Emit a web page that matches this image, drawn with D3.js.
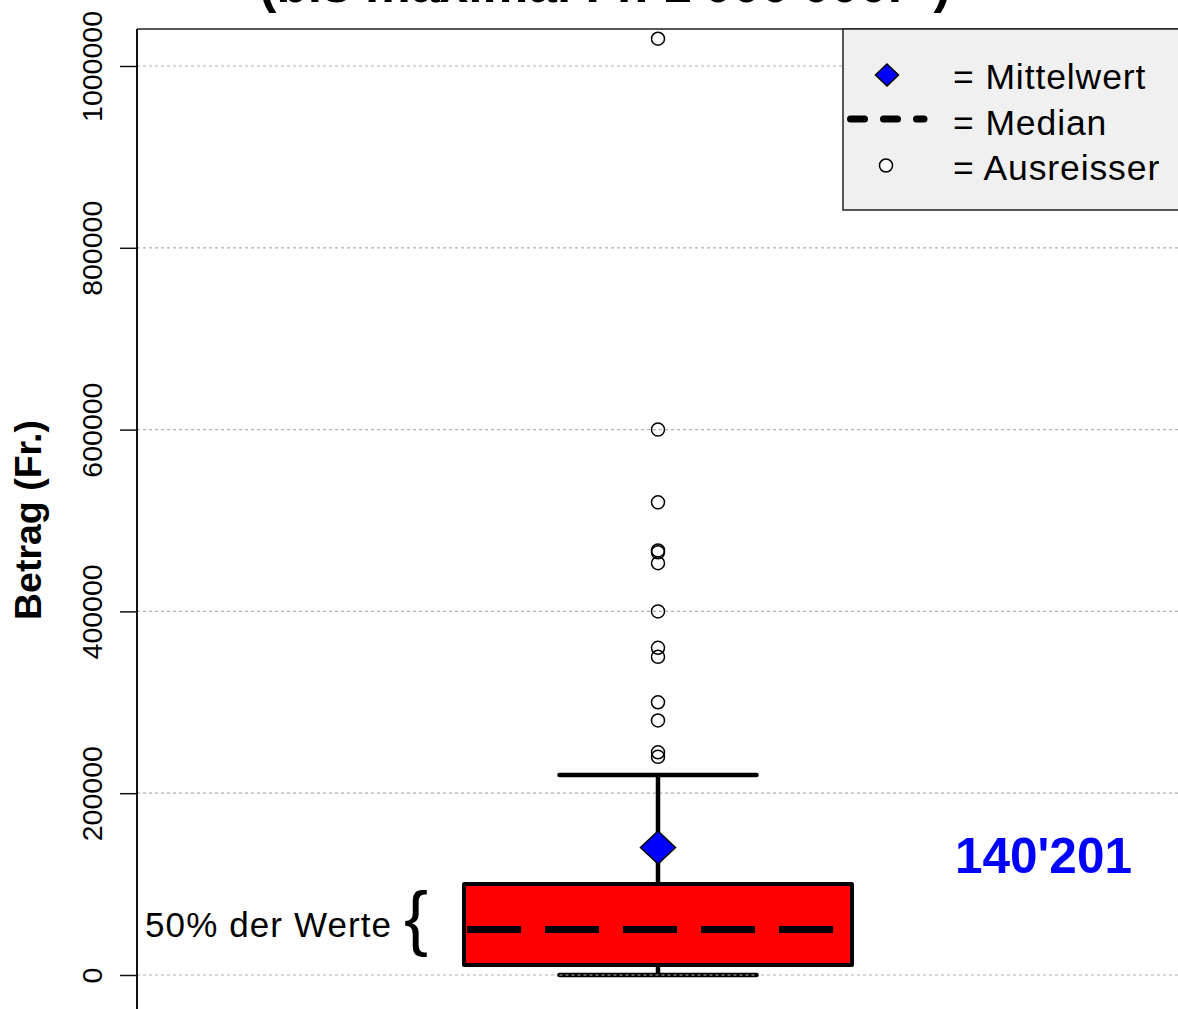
<!DOCTYPE html>
<html>
<head>
<meta charset="utf-8">
<script src="https://cdn.jsdelivr.net/npm/d3@7"></script>
<style>
  html, body { margin: 0; padding: 0; background: #fff; }
  svg { display: block; font-family: "Liberation Sans", Arial, Helvetica, sans-serif; }
</style>
</head>
<body>
<svg id="chart" width="1178" height="1009"></svg>
<script>
// ---- data ----
const categories = ["Betrag"];
const boxQ1 = [11000];
const boxMedian = [50000];
const boxQ3 = [100000];
const whiskerLow = [0];
const whiskerHigh = [220000];
const meanValues = [140201];
const meanLabels = ["140'201"];
const outliers = [1030000, 600000, 520000, 467000, 465000, 453000, 400000, 360000, 350000, 300000, 280000, 245000, 240000];
const yTicks = [0, 200000, 400000, 600000, 800000, 1000000];
const titleText = "(bis maximal Fr. 1'000'000.- )";
const yLabel = "Betrag (Fr.)";
const legendLabels = ["= Mittelwert", "= Median", "= Ausreisser"];
const braceLabel = "50% der Werte";

// ---- layout ----
const svg = d3.select("#chart");
const plotLeft = 137, plotRight = 1179, plotTop = 29, plotBottom = 1012;

const y = d3.scaleLinear().domain([0, 1000000]).range([975, 66]);
const x = d3.scaleBand().domain(categories).range([plotLeft, plotRight]).paddingInner(0).paddingOuter(0.843);

const font = '"Liberation Sans", Arial, Helvetica, sans-serif';

// gridlines
svg.append("g").selectAll("line").data(yTicks).join("line")
  .attr("x1", plotLeft).attr("x2", plotRight)
  .attr("y1", d => y(d)).attr("y2", d => y(d))
  .attr("stroke", "#b0b0b0").attr("stroke-width", 1.2)
  .attr("stroke-dasharray", "3,3");

// plot box (top + left)
svg.append("line").attr("x1", plotLeft).attr("x2", plotRight).attr("y1", plotTop).attr("y2", plotTop)
  .attr("stroke", "#222").attr("stroke-width", 1.5);
svg.append("line").attr("x1", plotLeft).attr("x2", plotLeft).attr("y1", plotTop).attr("y2", plotBottom)
  .attr("stroke", "#111").attr("stroke-width", 2);

// y axis
const yAxis = d3.axisLeft(y).tickValues(yTicks).tickSize(17).tickFormat(d3.format("d"));
const gAxis = svg.append("g").attr("transform", `translate(${plotLeft},0)`).call(yAxis);
gAxis.select(".domain").remove();
gAxis.selectAll(".tick line").attr("stroke", "#111").attr("stroke-width", 1.5);
gAxis.selectAll(".tick text")
  .attr("x", null).attr("dy", null)
  .attr("transform", "translate(-35,0) rotate(-90)")
  .attr("text-anchor", "middle")
  .attr("font-family", font)
  .attr("font-size", 28.5)
  .attr("fill", "#000");

// y label
svg.append("text")
  .attr("transform", "translate(41,520) rotate(-90)")
  .attr("text-anchor", "middle")
  .attr("font-family", font).attr("font-weight", "bold").attr("font-size", 37.5)
  .text(yLabel);

// title (cut off at top, as in the original)
svg.append("text")
  .attr("x", 605).attr("y", 2)
  .attr("text-anchor", "middle")
  .attr("font-family", font).attr("font-weight", "bold").attr("font-size", 51.5)
  .text(titleText);

// box plot
categories.forEach((c, i) => {
  const cx = x(c) + x.bandwidth() / 2;
  const capHalf = x.bandwidth() * 0.254;
  svg.append("line").attr("x1", cx).attr("x2", cx)
    .attr("y1", y(whiskerHigh[i])).attr("y2", y(boxQ3[i]))
    .attr("stroke", "#000").attr("stroke-width", 4.5);
  svg.append("line").attr("x1", cx).attr("x2", cx)
    .attr("y1", y(boxQ1[i])).attr("y2", y(whiskerLow[i]))
    .attr("stroke", "#000").attr("stroke-width", 4.5);
  [whiskerHigh[i], whiskerLow[i]].forEach(v => {
    svg.append("line").attr("x1", cx - capHalf).attr("x2", cx + capHalf)
      .attr("y1", y(v)).attr("y2", y(v))
      .attr("stroke", "#000").attr("stroke-width", 4.5).attr("stroke-linecap", "round");
  });
  svg.append("line").attr("x1", cx - capHalf).attr("x2", cx + capHalf)
    .attr("y1", y(whiskerLow[i])).attr("y2", y(whiskerLow[i]))
    .attr("stroke", "#bbb").attr("stroke-width", 1.2).attr("stroke-dasharray", "3,3");
  svg.append("rect")
    .attr("x", x(c)).attr("y", y(boxQ3[i]))
    .attr("width", x.bandwidth()).attr("height", y(boxQ1[i]) - y(boxQ3[i]))
    .attr("fill", "#ff0000").attr("stroke", "#000").attr("stroke-width", 4)
    .attr("stroke-linejoin", "round");
  svg.append("line")
    .attr("x1", x(c) + 3).attr("x2", x(c) + x.bandwidth() - 2)
    .attr("y1", y(boxMedian[i])).attr("y2", y(boxMedian[i]))
    .attr("stroke", "#000").attr("stroke-width", 7)
    .attr("stroke-dasharray", "54,24");
  const my = y(meanValues[i]);
  svg.append("path")
    .attr("d", `M${cx},${my - 16.5} L${cx + 17.5},${my} L${cx},${my + 16.5} L${cx - 17.5},${my} Z`)
    .attr("fill", "#0000ff").attr("stroke", "#000").attr("stroke-width", 1.5);
  svg.append("g").selectAll("circle").data(outliers).join("circle")
    .attr("cx", cx).attr("cy", d => y(d)).attr("r", 6.5)
    .attr("fill", "none").attr("stroke", "#000").attr("stroke-width", 1.5);
  svg.append("text").attr("x", 955).attr("y", 873)
    .attr("font-family", font).attr("font-weight", "bold").attr("font-size", 49.5)
    .attr("fill", "#0000ff").text(meanLabels[i]);
  svg.append("text").attr("x", 145).attr("y", 937)
    .attr("font-family", font).attr("font-size", 35).attr("letter-spacing", 1.1).text(braceLabel);
  svg.append("text").attr("x", 404).attr("y", 942)
    .attr("font-family", font).attr("font-size", 72).text("{");
});

// legend
const lg = svg.append("g");
lg.append("rect").attr("x", 843).attr("y", plotTop).attr("width", 400).attr("height", 210 - plotTop)
  .attr("fill", "#f0f0f0").attr("stroke", "#222").attr("stroke-width", 1.5);
lg.append("path")
  .attr("d", "M887,64 L898.5,75 L887,86 L875.5,75 Z")
  .attr("fill", "#0000ff").attr("stroke", "#000").attr("stroke-width", 1.5);
lg.append("line").attr("x1", 850.5).attr("x2", 924).attr("y1", 119).attr("y2", 119)
  .attr("stroke", "#000").attr("stroke-width", 7).attr("stroke-linecap", "round")
  .attr("stroke-dasharray", "14,19");
lg.append("circle").attr("cx", 886).attr("cy", 165.5).attr("r", 6.5)
  .attr("fill", "#fff").attr("stroke", "#000").attr("stroke-width", 1.5);
lg.selectAll("text.lt").data(legendLabels).join("text")
  .attr("class", "lt")
  .attr("x", 953).attr("y", (d, i) => 89 + i * 45.5)
  .attr("font-family", font).attr("font-size", 35.5).attr("letter-spacing", 0.9)
  .text(d => d);
</script>
</body>
</html>
